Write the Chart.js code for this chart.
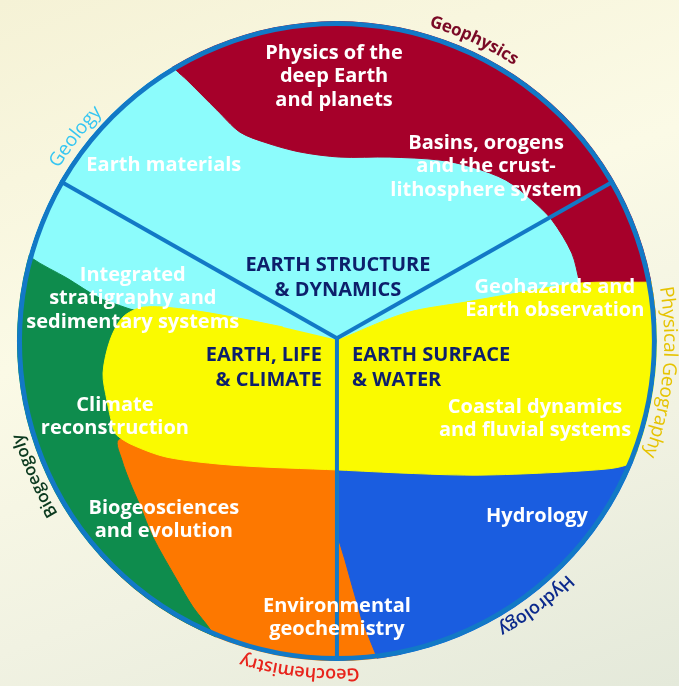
<!DOCTYPE html>
<html>
<head>
<meta charset="utf-8">
<script src="https://cdn.jsdelivr.net/npm/chart.js@4.4.0/dist/chart.umd.min.js"></script>
<style>
  html, body { margin: 0; padding: 0; }
  body {
    width: 679px; height: 686px; overflow: hidden;
    background: linear-gradient(160deg, #f5f2d6 0%, #fbfae6 40%, #f1f2e2 70%, #e4e9da 100%);
  }
  #contenedor { position: relative; width: 679px; height: 686px; }
</style>
</head>
<body>
<div id="contenedor"><canvas id="plot"></canvas></div>
<script>
// Unidades del dibujo: centro del círculo en (0,0), radio = 100
const RADIO = 100;

// Contornos de cada zona de color
const zonaRoja = [[-58.4,94.1],[-50.3,84.7],[-46.9,81.6],[-37.5,72.2],[-30.3,65.3],[-21.9,61.9],[-11.6,59.1],[0.9,57.5],[16.3,57.5],[31.9,56.6],[42.2,54.4],[52.8,50.3],[60.9,44.1],[67.2,37.8],[73.4,27.5],[75.9,18.1],[78,10],[106,10],[106,106],[-58.4,106]];
const zonaAmarilla = [[0.3,0.3],[21.6,8.8],[40.3,12.2],[52.8,14.4],[75.6,18.1],[96.6,18.4],[106,18.4],[106,-37.8],[92.2,-37.2],[90.3,-38.8],[84.1,-40.0],[63.1,-41.3],[42.2,-41.9],[21.6,-41.3],[0.6,-40.3],[-32.5,-38.8],[-53.1,-36.3],[-63.8,-32.5],[-68.8,-29.4],[-70.0,-26.9],[-71.9,-18.4],[-73.1,-10.0],[-70.9,0.3],[-66.9,7.5],[-60.6,10.6],[-48.1,10.0],[-32.5,7.5],[-16.9,4.4]];
const zonaVerde = [[-105.3,34.7],[-95.3,25.9],[-84.4,19.7],[-74.1,13.4],[-65.6,10.3],[-58.4,7.2],[-58.4,-27.8],[-68.4,-30.9],[-67.2,-37.2],[-64.7,-44.1],[-61.6,-51.3],[-57.5,-61.3],[-50.0,-74.7],[-45.0,-83.1],[-39.1,-90.9],[-35.0,-99.7],[-105.3,-107.8]];
const zonaNaranja = [[-74.1,-26.3],[19.7,-26.3],[19.7,-107.5],[-74.1,-107.5]];
const zonaAzul = [[0.6,-34.1],[106,-34.1],[106,-107.5],[15.0,-107.5],[12.5,-98.8],[7.8,-87.2],[4.7,-76.3],[2.5,-68.4],[0.6,-62.2]];

// Las tres lineas que dividen el circulo
const divisiones = [
  [[0,0.9],[-86.6,50]],
  [[0,0.9],[86.6,50]],
  [[0,0.9],[0,-100]]
];

// Textos interiores (blancos) y su posicion
const etiquetas = [
  ['Physics of the','deep Earth','and planets'],
  ['Earth materials'],
  ['Basins, orogens','and the crust-','lithosphere system'],
  ['Integrated','stratigraphy and','sedimentary systems'],
  ['Geohazards and','Earth observation'],
  ['Climate','reconstruction'],
  ['Coastal dynamics','and fluvial systems'],
  ['Biogeosciences','and evolution'],
  ['Hydrology'],
  ['Environmental','geochemistry']
];
const posEtiquetas = [[-0.9,90],[-54.1,55],[46.6,61.9],[-63.8,20.6],[68.1,16.9],[-69.4,-20],[61.9,-20.6],[-54.1,-52.2],[62.5,-54.7],[0,-82.8]];

// Temas principales (azul oscuro)
const temas = [['EARTH STRUCTURE','& DYNAMICS'],['EARTH, LIFE','& CLIMATE'],['EARTH SURFACE','& WATER']];
const posTemas = [[0.3,23.75],[-4.7,-4.4],[4.7,-4.4]];
const alineaTemas = ['center','right','left'];

// Disciplinas escritas alrededor del circulo (angulo central en grados)
const anillo = ['Geophysics','Geology','Physical Geography','Hydrology','Geochemistry','Biogeogoly'];
const anilloAngulo = [65.5, 142, -5.5, -53, -96.5, 204];
const anilloColor = ['#7a0a26','#35c6f2','#e6c300','#0c2a8c','#e8241c','#0b3a1f'];
const anilloFuente = ['700 17px "Open Sans"','400 19px "Open Sans"','400 19px "Open Sans"','600 18px "Open Sans"','600 18px "Open Sans"','600 17px "Open Sans"'];

const AZUL_BORDE = '#1279c6';

let aPuntos = (arr) => arr.map(p => ({x: p[0], y: p[1]}));

let radioPx = (chart, r) => {
  const sx = chart.scales.x;
  return sx.getPixelForValue(r) - sx.getPixelForValue(0);
};

let zona = (nombre, puntos, color, tension) => ({
  label: nombre,
  data: aPuntos(puntos),
  showLine: true,
  fill: 'shape',
  backgroundColor: color,
  borderColor: color,
  borderWidth: 1,
  pointRadius: 0,
  tension: tension
});

// Capas de abajo hacia arriba
let capas = [
  {
    label: 'fondo',
    data: [{x: 0, y: 0}],
    pointRadius: (c) => radioPx(c.chart, RADIO),
    pointBackgroundColor: '#8cfcfc',
    pointBorderWidth: 0
  },
  zona('naranja', zonaNaranja, '#fd7800', 0),
  zona('verde', zonaVerde, '#0e8c4d', 0.3),
  zona('azul', zonaAzul, '#1a5de0', 0),
  zona('roja', zonaRoja, '#a6002a', 0.3),
  zona('amarilla', zonaAmarilla, '#fafa00', 0.3)
];

divisiones.forEach((d, i) => {
  capas.push({
    label: 'linea' + i,
    data: aPuntos(d),
    showLine: true,
    fill: false,
    borderColor: AZUL_BORDE,
    borderWidth: 4,
    pointRadius: 0,
    tension: 0
  });
});

capas.push({
  label: 'borde',
  data: [{x: 0, y: 0}],
  pointRadius: (c) => radioPx(c.chart, RADIO) - 2.5,
  pointBackgroundColor: 'rgba(0,0,0,0)',
  pointBorderColor: AZUL_BORDE,
  pointBorderWidth: 5
});

// El primer dataset se dibuja al fondo
capas.forEach((c, i) => { c.order = capas.length - i; });

let textoEnArco = (ctx, texto, cx, cy, r, angulo, fuente, color) => {
  ctx.save();
  ctx.font = fuente;
  ctx.fillStyle = color;
  ctx.textAlign = 'center';
  ctx.textBaseline = 'middle';
  const total = ctx.measureText(texto).width;
  let theta = angulo * Math.PI / 180 + total / 2 / r;
  for (const letra of texto) {
    const w = ctx.measureText(letra).width;
    const a = theta - w / 2 / r;
    ctx.save();
    ctx.translate(cx + r * Math.cos(a), cy - r * Math.sin(a));
    ctx.rotate(Math.PI / 2 - a);
    ctx.fillText(letra, 0, 0);
    ctx.restore();
    theta -= w / r;
  }
  ctx.restore();
};

let bloqueTexto = (ctx, lineas, x, y, alto, alinea, fuente, color) => {
  ctx.save();
  ctx.font = fuente;
  ctx.fillStyle = color;
  ctx.textAlign = alinea;
  ctx.textBaseline = 'middle';
  lineas.forEach((l, i) => ctx.fillText(l, x, y + i * alto));
  ctx.restore();
};

const circuloPlugin = {
  id: 'circuloPlugin',
  beforeDatasetsDraw(chart) {
    const {ctx, scales: {x, y}} = chart;
    const cx = x.getPixelForValue(0), cy = y.getPixelForValue(0);
    ctx.save();
    ctx.beginPath();
    ctx.arc(cx, cy, radioPx(chart, RADIO), 0, Math.PI * 2);
    ctx.clip();
  },
  afterDatasetsDraw(chart) {
    const {ctx, scales: {x, y}} = chart;
    ctx.restore();

    etiquetas.forEach((lineas, i) => {
      const p = posEtiquetas[i];
      bloqueTexto(ctx, lineas, x.getPixelForValue(p[0]), y.getPixelForValue(p[1]), 23.5, 'center', '700 20px "Open Sans"', '#ffffff');
    });

    temas.forEach((lineas, i) => {
      const p = posTemas[i];
      bloqueTexto(ctx, lineas, x.getPixelForValue(p[0]), y.getPixelForValue(p[1]), 25, alineaTemas[i], '700 20px "Open Sans"', '#0d1f6b');
    });

    const cx = x.getPixelForValue(0), cy = y.getPixelForValue(0);
    anillo.forEach((t, i) => {
      textoEnArco(ctx, t, cx, cy, radioPx(chart, 104), anilloAngulo[i], anilloFuente[i], anilloColor[i]);
    });
  }
};

let plotRef = document.getElementById('plot');

let config = {
  type: 'scatter',
  data: { datasets: capas },
  options: {
    responsive: true,
    maintainAspectRatio: false,
    animation: false,
    events: [],
    layout: { padding: 0 },
    plugins: {
      legend: { display: false },
      tooltip: { enabled: false }
    },
    scales: {
      x: { type: 'linear', display: false, min: -105.3, max: 106.9 },
      y: { type: 'linear', display: false, min: -107.8, max: 106.6 }
    }
  },
  plugins: [circuloPlugin]
};

let chart1 = new Chart(plotRef, config);
</script>
</body>
</html>
